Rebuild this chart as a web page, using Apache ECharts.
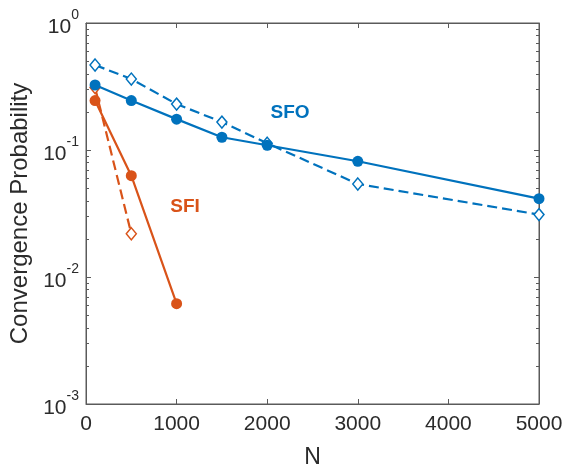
<!DOCTYPE html>
<html>
<head>
<meta charset="utf-8">
<script src="https://cdn.jsdelivr.net/npm/echarts@6/dist/echarts.min.js"></script>
<style>html,body{margin:0;padding:0;background:#fff}#c{width:564px;height:465px}</style>
</head>
<body>
<div id="c"></div>
<script>
const N = [100, 500, 1000, 1500, 2000, 3000, 5000];
const sfoSolid = [0.325, 0.245, 0.175, 0.126, 0.109, 0.0815, 0.0414];
const sfoDashed = [0.467, 0.362, 0.230, 0.166, 0.113, 0.054, 0.031];
const N_SFI = [100, 500, 1000];
const sfiSolid = [0.245, 0.0628, 0.00616];
const N_SFI_D = [100, 500];
const sfiDashed = [0.31, 0.0219];
const minorTicks = [0.002,0.003,0.004,0.005,0.006,0.007,0.008,0.009,
                    0.02,0.03,0.04,0.05,0.06,0.07,0.08,0.09,
                    0.2,0.3,0.4,0.5,0.6,0.7,0.8,0.9];
const xTicks = [0, 1000, 2000, 3000, 4000, 5000];

const BLUE = '#0072BD', ORANGE = '#D95319';
const AX = '#5a5a5a', TXT = '#2b2b2b';
const FONT = '"Liberation Sans", Arial, Helvetica, sans-serif';

const zip = (xs, ys) => xs.map((x, i) => [x, ys[i]]);

const chart = echarts.init(document.getElementById('c'), null, {renderer: 'canvas'});
const mkLine = () => ({show: true, onZero: false, lineStyle: {color: AX, width: 1}});
const mkTick = () => ({show: true, inside: true, length: 5, lineStyle: {color: AX, width: 1}});
const opt = {
  animation: false,
  backgroundColor: '#fff',
  grid: {left: 86, right: 25, top: 23, bottom: 61, containLabel: false, outerBoundsMode: 'none',
         show: true, borderColor: AX, borderWidth: 1, backgroundColor: 'transparent'},
  xAxis: [{
    type: 'value', min: xTicks[0], max: xTicks[xTicks.length-1], interval: 1000,
    name: 'N', nameLocation: 'middle', nameGap: 42,
    nameTextStyle: {fontFamily: FONT, fontSize: 23, color: TXT},
    axisLine: mkLine(), axisTick: mkTick(),
    axisLabel: {fontFamily: FONT, fontSize: 21, color: TXT, margin: 10, formatter: v => String(v)},
    splitLine: {show: false}
  }, {
    type: 'value', position: 'top', min: xTicks[0], max: xTicks[xTicks.length-1], interval: 1000,
    axisLine: mkLine(), axisTick: mkTick(),
    axisLabel: {show: false}, splitLine: {show: false}
  }],
  yAxis: [{
    type: 'log', logBase: 10, min: 0.001, max: 1,
    name: 'Convergence Probability', nameLocation: 'middle', nameGap: 53,
    nameTextStyle: {fontFamily: FONT, fontSize: 24, color: TXT, padding: [0, 0, 0, 0]},
    axisLine: mkLine(), axisTick: mkTick(),
    axisLabel: {
      margin: 7,
      formatter: v => '{b|10}{s|' + Math.round(Math.log10(v)) + '}',
      rich: {
        b: {fontFamily: FONT, fontSize: 21, color: TXT, verticalAlign: 'bottom', lineHeight: 30},
        s: {fontFamily: FONT, fontSize: 14, color: TXT, verticalAlign: 'top', lineHeight: 30}
      }
    },
    splitLine: {show: false}
  }, {
    type: 'log', logBase: 10, min: 0.001, max: 1, position: 'right',
    axisLine: mkLine(), axisTick: mkTick(),
    axisLabel: {show: false}, splitLine: {show: false}
  }],
  series: [
    {
      type: 'custom', silent: true, z: 1,
      data: minorTicks.map(v => [xTicks[0], v]),
      renderItem: (params, api) => {
        const y = Math.round(api.coord([api.value(0), api.value(1)])[1]) + 0.5;
        const cs = params.coordSys;
        return {type: 'group', children: [
          {type: 'line', shape: {x1: cs.x, y1: y, x2: cs.x + 3, y2: y}, style: {stroke: AX, lineWidth: 1}},
          {type: 'line', shape: {x1: cs.x + cs.width, y1: y, x2: cs.x + cs.width - 3, y2: y}, style: {stroke: AX, lineWidth: 1}}
        ]};
      }
    },
    {
      name: 'SFO dashed', type: 'line', data: zip(N, sfoDashed), z: 3,
      lineStyle: {color: BLUE, width: 2.2, type: [10, 5]},
      symbol: 'diamond', symbolSize: [10, 12],
      itemStyle: {color: '#fff', borderColor: BLUE, borderWidth: 1.5}
    },
    {
      name: 'SFO', type: 'line', data: zip(N, sfoSolid), z: 4,
      lineStyle: {color: BLUE, width: 2.2},
      symbol: 'circle', symbolSize: 11,
      itemStyle: {color: BLUE, borderColor: BLUE, borderWidth: 0}
    },
    {
      name: 'SFI dashed', type: 'line', data: zip(N_SFI_D, sfiDashed), z: 3,
      lineStyle: {color: ORANGE, width: 2.2, type: [10, 5]},
      symbol: 'diamond', symbolSize: [10, 12],
      itemStyle: {color: '#fff', borderColor: ORANGE, borderWidth: 1.5}
    },
    {
      name: 'SFI', type: 'line', data: zip(N_SFI, sfiSolid), z: 4,
      lineStyle: {color: ORANGE, width: 2.2},
      symbol: 'circle', symbolSize: 11,
      itemStyle: {color: ORANGE, borderColor: ORANGE, borderWidth: 0}
    }
  ],
  graphic: [
    {type: 'text', x: 290, y: 113, style: {text: 'SFO', fill: BLUE, font: 'bold 19px ' + FONT, align: 'center', verticalAlign: 'middle'}},
    {type: 'text', x: 185, y: 207, style: {text: 'SFI', fill: ORANGE, font: 'bold 19px ' + FONT, align: 'center', verticalAlign: 'middle'}}
  ]
};
chart.setOption(opt);
</script>
</body>
</html>
